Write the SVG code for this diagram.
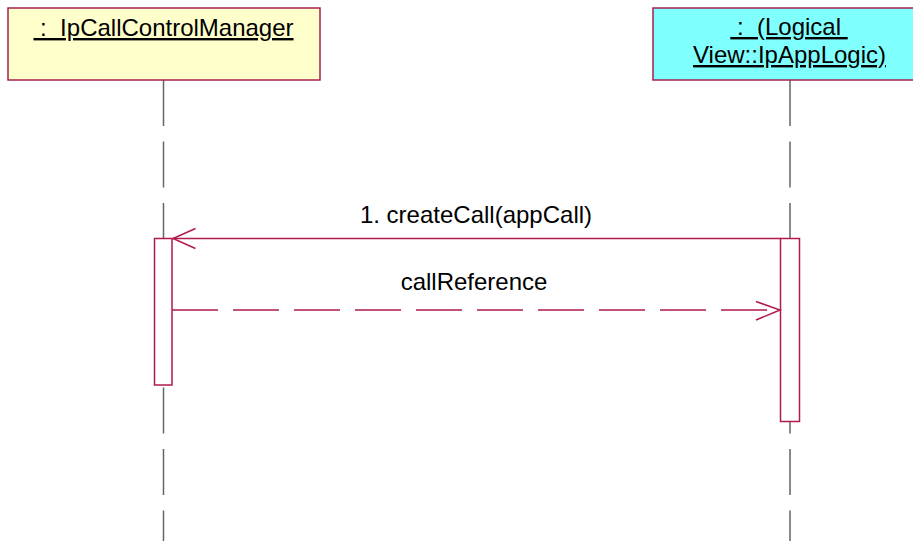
<svg xmlns="http://www.w3.org/2000/svg" width="913" height="541" viewBox="0 0 913 541">
<style>
.box{stroke:#a8204e;stroke-width:1.5}
.t{font-family:"Liberation Sans",Arial,sans-serif;font-size:24px;fill:#000;text-anchor:middle;white-space:pre}
.u{text-decoration:underline}
.life{stroke:#666;stroke-width:1.5;stroke-dasharray:46 15.5;fill:none}
.act{fill:#fff;stroke:#b01a4e;stroke-width:1.5}
.msg{stroke:#b01a4e;stroke-width:1.5;fill:none}
</style>
<rect width="913" height="541" fill="#fff"/>
<g id="lifelines">
<line class="life" x1="163.5" y1="80" x2="163.5" y2="541"/>
<line class="life" x1="790" y1="80" x2="790" y2="541"/>
</g>
<g id="node-manager">
<rect class="box" x="8" y="8" width="312" height="72" fill="#ffffcc"/>
<text class="t u" x="163.5" y="36" xml:space="preserve"> :  IpCallControlManager</text>
<rect class="act" x="154.5" y="238.5" width="17.5" height="146.5"/>
</g>
<g id="node-applogic">
<rect class="box" x="653" y="8" width="274" height="72" fill="#80ffff"/>
<text class="t u" x="789" y="35" xml:space="preserve"> :  (Logical </text>
<text class="t u" x="789.5" y="63" xml:space="preserve">View::IpAppLogic)</text>
<rect class="act" x="780.5" y="238.5" width="19" height="183"/>
</g>
<g id="connectors">
<line class="msg" x1="780.5" y1="238.5" x2="172.5" y2="238.5"/>
<polyline class="msg" points="195.5,228.5 173,238.5 195.5,248.5"/>
<text class="t" x="476" y="223">1. createCall(appCall)</text>
<line class="msg" x1="172" y1="310" x2="780" y2="310" stroke-dasharray="46 15"/>
<polyline class="msg" points="756,301.5 780,310 756,320"/>
<text class="t" x="474" y="290">callReference</text>
</g>
</svg>
